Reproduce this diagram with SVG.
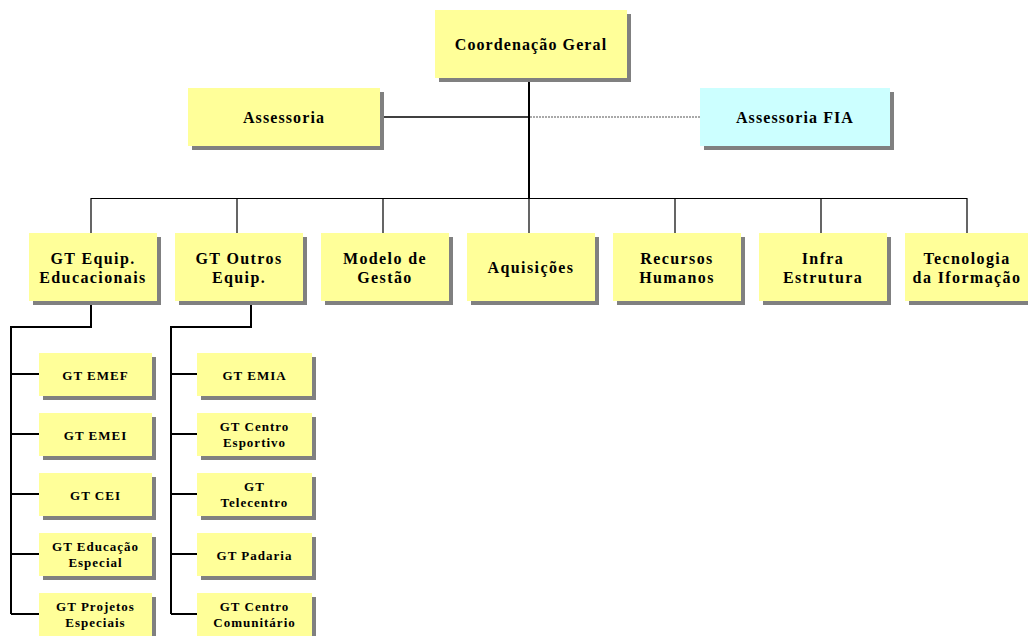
<svg xmlns="http://www.w3.org/2000/svg" width="1028" height="636" viewBox="0 0 1028 636">
<defs>
<style>
.sh{fill:#808080}
.y{fill:#FFFF99}
.c{fill:#CCFFFF}
text{font-family:"Liberation Serif","Times New Roman",serif;font-weight:bold;fill:#000;text-anchor:middle}
.t1{font-size:16px;letter-spacing:1.1px}
.t2{font-size:16px;letter-spacing:1.4px}
.t3{font-size:13px;letter-spacing:1px}
.ln{stroke:#000;fill:none}
</style>
</defs>
<rect width="1028" height="636" fill="#fff"/>
<g id="connectors">
<line class="ln" x1="529" y1="78" x2="529" y2="199" stroke-width="2"/>
<line class="ln" x1="380" y1="117" x2="529" y2="117" stroke-width="1.5"/>
<line x1="530" y1="117" x2="700" y2="117" stroke="#555" stroke-width="1.2" stroke-dasharray="2,1"/>
<path class="ln" d="M91 233 V198.5 H967 V233 M237 198.5 V233 M383 198.5 V233 M529 198.5 V233 M675 198.5 V233 M821 198.5 V233" stroke-width="1.2"/>
<path class="ln" d="M91 301 V327 H11 V614 M11 374 H39 M11 434 H39 M11 494 H39 M11 554 H39 M11 614 H39" stroke-width="2"/>
<path class="ln" d="M251 301 V327 H171 V614 M171 374 H197 M171 434 H197 M171 494 H197 M171 554 H197 M171 614 H197" stroke-width="2"/>
</g>
<g id="coord"><rect class="sh" x="439" y="14" width="192" height="68"/><rect class="y" x="435" y="10" width="192" height="68"/><text class="t1" x="531" y="50">Coordenação Geral</text></g>
<g id="assessoria"><rect class="sh" x="192" y="92" width="192" height="58"/><rect class="y" x="188" y="88" width="192" height="58"/><text class="t1" x="284" y="123">Assessoria</text></g>
<g id="assessoria-fia"><rect class="sh" x="704" y="92" width="190" height="58"/><rect class="c" x="700" y="88" width="190" height="58"/><text class="t1" x="795" y="123">Assessoria FIA</text></g>
<g id="gt-equip-edu"><rect class="sh" x="33" y="237" width="128" height="68"/><rect class="y" x="29" y="233" width="128" height="68"/><text class="t2" x="93" y="264">GT Equip.</text><text class="t2" x="93" y="283">Educacionais</text></g>
<g id="gt-outros"><rect class="sh" x="179" y="237" width="128" height="68"/><rect class="y" x="175" y="233" width="128" height="68"/><text class="t2" x="239" y="264">GT Outros</text><text class="t2" x="239" y="283">Equip.</text></g>
<g id="modelo"><rect class="sh" x="325" y="237" width="128" height="68"/><rect class="y" x="321" y="233" width="128" height="68"/><text class="t2" x="385" y="264">Modelo de</text><text class="t2" x="385" y="283">Gestão</text></g>
<g id="aquisicoes"><rect class="sh" x="471" y="237" width="128" height="68"/><rect class="y" x="467" y="233" width="128" height="68"/><text class="t2" x="531" y="273">Aquisições</text></g>
<g id="rh"><rect class="sh" x="617" y="237" width="128" height="68"/><rect class="y" x="613" y="233" width="128" height="68"/><text class="t2" x="677" y="264">Recursos</text><text class="t2" x="677" y="283">Humanos</text></g>
<g id="infra"><rect class="sh" x="763" y="237" width="128" height="68"/><rect class="y" x="759" y="233" width="128" height="68"/><text class="t2" x="823" y="264">Infra</text><text class="t2" x="823" y="283">Estrutura</text></g>
<g id="tecnologia"><rect class="sh" x="909" y="237" width="128" height="68"/><rect class="y" x="905" y="233" width="128" height="68"/><text class="t2" x="967" y="264">Tecnologia</text><text class="t2" x="967" y="283">da Iformação</text></g>
<g id="gt-emef"><rect class="sh" x="43" y="357" width="113" height="43"/><rect class="y" x="39" y="353" width="113" height="43"/><text class="t3" x="95.5" y="379.5">GT EMEF</text></g>
<g id="gt-emei"><rect class="sh" x="43" y="417" width="113" height="43"/><rect class="y" x="39" y="413" width="113" height="43"/><text class="t3" x="95.5" y="439.5">GT EMEI</text></g>
<g id="gt-cei"><rect class="sh" x="43" y="477" width="113" height="43"/><rect class="y" x="39" y="473" width="113" height="43"/><text class="t3" x="95.5" y="499.5">GT CEI</text></g>
<g id="gt-edu-especial"><rect class="sh" x="43" y="537" width="113" height="43"/><rect class="y" x="39" y="533" width="113" height="43"/><text class="t3" x="95.5" y="550.5">GT Educação</text><text class="t3" x="95.5" y="567">Especial</text></g>
<g id="gt-projetos"><rect class="sh" x="43" y="597" width="113" height="43"/><rect class="y" x="39" y="593" width="113" height="43"/><text class="t3" x="95.5" y="610.5">GT Projetos</text><text class="t3" x="95.5" y="627">Especiais</text></g>
<g id="gt-emia"><rect class="sh" x="201" y="357" width="115" height="43"/><rect class="y" x="197" y="353" width="115" height="43"/><text class="t3" x="254.5" y="379.5">GT EMIA</text></g>
<g id="gt-centro-esportivo"><rect class="sh" x="201" y="417" width="115" height="43"/><rect class="y" x="197" y="413" width="115" height="43"/><text class="t3" x="254.5" y="430.5">GT Centro</text><text class="t3" x="254.5" y="447">Esportivo</text></g>
<g id="gt-telecentro"><rect class="sh" x="201" y="477" width="115" height="43"/><rect class="y" x="197" y="473" width="115" height="43"/><text class="t3" x="254.5" y="490.5">GT</text><text class="t3" x="254.5" y="507">Telecentro</text></g>
<g id="gt-padaria"><rect class="sh" x="201" y="537" width="115" height="43"/><rect class="y" x="197" y="533" width="115" height="43"/><text class="t3" x="254.5" y="559.5">GT Padaria</text></g>
<g id="gt-centro-comunitario"><rect class="sh" x="201" y="597" width="115" height="43"/><rect class="y" x="197" y="593" width="115" height="43"/><text class="t3" x="254.5" y="610.5">GT Centro</text><text class="t3" x="254.5" y="627">Comunitário</text></g>
</svg>
